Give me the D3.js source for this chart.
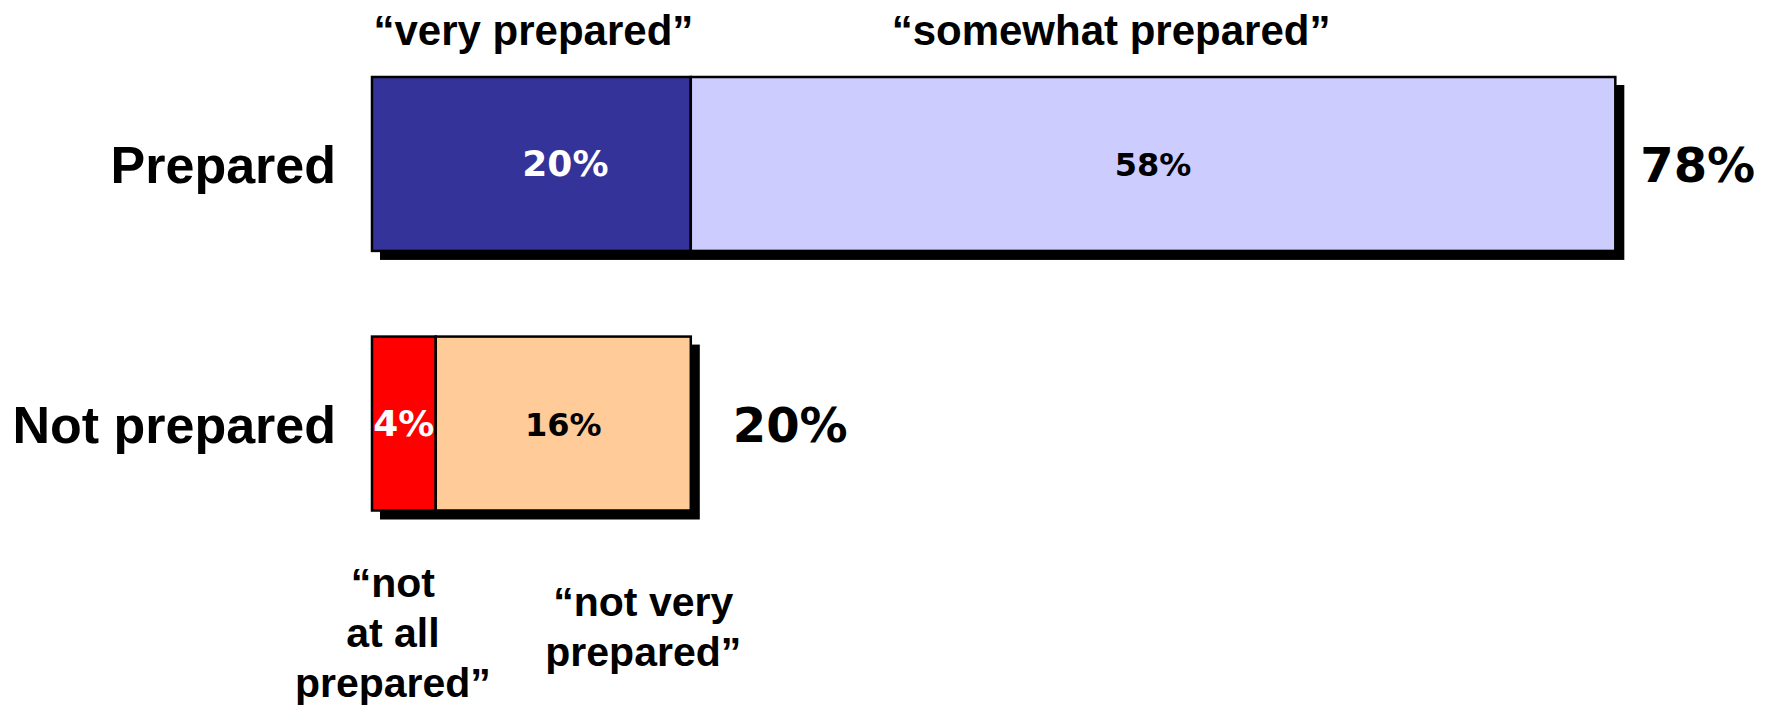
<!DOCTYPE html>
<html>
<head>
<meta charset="utf-8">
<script src="https://cdn.jsdelivr.net/npm/d3@7/dist/d3.min.js"></script>
<style>
  html, body { margin: 0; padding: 0; background: #ffffff; }
  svg { display: block; }
</style>
</head>
<body>
<svg id="chart" width="1773" height="709"></svg>
<script>
// Survey: how prepared respondents feel
const categories = ["Prepared", "Not prepared"];
const segmentNames = [
  ["\u201cvery prepared\u201d", "\u201csomewhat prepared\u201d"],
  ["\u201cnot at all prepared\u201d", "\u201cnot very prepared\u201d"]
];
const preparedValues = [20, 58];
const notPreparedValues = [4, 16];
const seriesValues = [preparedValues, notPreparedValues];
const totals = [78, 20];

const segmentColors = [["#333399", "#ccccff"], ["#ff0000", "#ffcc99"]];
const valueTextColors = [["#ffffff", "#000000"], ["#ffffff", "#000000"]];

const svg = d3.select("#chart");

const x = d3.scaleLinear().domain([0, 100]).range([372, 1966]);
const y = d3.scaleBand().domain(categories).range([77, 510.5]).paddingInner(0.33).paddingOuter(0);

const pct = d => d + "%";

// Build stacked segments per row
const rows = categories.map((c, i) => {
  let acc = 0;
  const segs = seriesValues[i].map((v, j) => {
    const s = { row: i, idx: j, x0: acc, x1: acc + v, value: v, name: segmentNames[i][j] };
    acc += v;
    return s;
  });
  return { cat: c, i, segs, total: totals[i] };
});

const shadowOffset = 8;

const rowG = svg.selectAll("g.row").data(rows).join("g").attr("class", "row");

// drop shadow behind each bar
rowG.append("rect")
  .attr("x", d => x(0) + shadowOffset)
  .attr("y", d => y(d.cat) + shadowOffset)
  .attr("width", d => x(d.total) - x(0) + 1)
  .attr("height", y.bandwidth() + 1)
  .attr("fill", "#000000");

// segments
rowG.selectAll("rect.seg").data(d => d.segs).join("rect")
  .attr("class", "seg")
  .attr("x", d => x(d.x0))
  .attr("y", d => y(categories[d.row]))
  .attr("width", d => x(d.x1) - x(d.x0))
  .attr("height", y.bandwidth())
  .attr("fill", d => segmentColors[d.row][d.idx])
  .attr("stroke", "#000000")
  .attr("stroke-width", 2.5);

// category labels
svg.selectAll("text.cat").data(rows).join("text")
  .attr("class", "cat")
  .attr("x", 336)
  .attr("y", d => y(d.cat) + y.bandwidth() / 2 + 19)
  .attr("text-anchor", "end")
  .attr("font-family", "'Liberation Sans', Arial, sans-serif")
  .attr("font-weight", "bold")
  .attr("font-size", 52)
  .attr("fill", "#000000")
  .text(d => d.cat);

// value labels inside segments
const valueDx = [[34, 0], [0, 0]];
const valueSize = [[36, 32], [36, 32]];
svg.selectAll("text.val").data(rows.flatMap(r => r.segs)).join("text")
  .attr("class", "val")
  .attr("x", d => (x(d.x0) + x(d.x1)) / 2 + valueDx[d.row][d.idx])
  .attr("y", d => y(categories[d.row]) + y.bandwidth() / 2 + 12)
  .attr("text-anchor", "middle")
  .attr("font-family", "'DejaVu Sans', Verdana, sans-serif")
  .attr("font-weight", "bold")
  .attr("font-size", d => valueSize[d.row][d.idx])
  .attr("fill", d => valueTextColors[d.row][d.idx])
  .text(d => pct(d.value));

// totals to the right of each bar
const totalDx = [25, 42];
svg.selectAll("text.total").data(rows).join("text")
  .attr("class", "total")
  .attr("x", d => x(d.total) + totalDx[d.i])
  .attr("y", d => y(d.cat) + y.bandwidth() / 2 + 18)
  .attr("font-family", "'DejaVu Sans', Verdana, sans-serif")
  .attr("font-weight", "bold")
  .attr("font-size", 48)
  .attr("fill", "#000000")
  .text(d => pct(d.total));

// segment headings above the top bar
const headFont = "'Liberation Sans', Arial, sans-serif";
const topDx = [2, -42];
svg.selectAll("text.head").data(rows[0].segs).join("text")
  .attr("class", "head")
  .attr("x", d => (x(d.x0) + x(d.x1)) / 2 + topDx[d.idx])
  .attr("y", 45)
  .attr("text-anchor", "middle")
  .attr("font-family", headFont)
  .attr("font-weight", "bold")
  .attr("font-size", 42)
  .attr("fill", "#000000")
  .text(d => d.name);

// segment captions below the lower bar, wrapped onto lines
const bottomLines = [
  ["\u201cnot", "at all", "prepared\u201d"],
  ["\u201cnot very", "prepared\u201d"]
];
const bottomDx = [-11, 80];
const bottomY0 = [597, 616];
const lineGap = 50;
const cap = svg.selectAll("text.cap").data(rows[1].segs).join("text")
  .attr("class", "cap")
  .attr("text-anchor", "middle")
  .attr("font-family", headFont)
  .attr("font-weight", "bold")
  .attr("font-size", 41)
  .attr("fill", "#000000");
cap.each(function(d) {
  const cx = (x(d.x0) + x(d.x1)) / 2 + bottomDx[d.idx];
  d3.select(this).selectAll("tspan").data(bottomLines[d.idx]).join("tspan")
    .attr("x", cx)
    .attr("y", (t, k) => bottomY0[d.idx] + k * lineGap)
    .text(t => t);
});
</script>
</body>
</html>
